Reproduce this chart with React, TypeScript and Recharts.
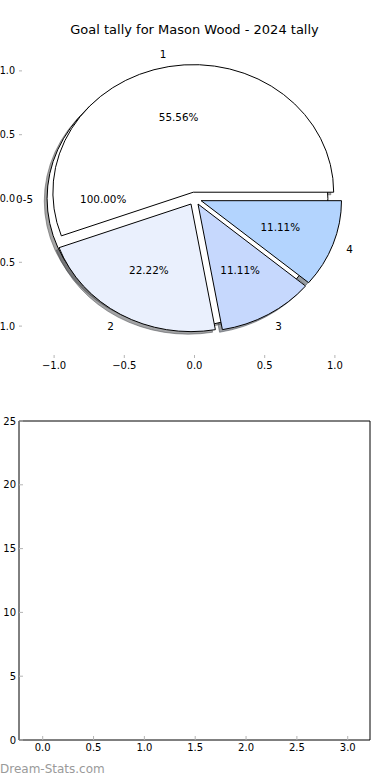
import React from 'react'
import { PieChart, Pie, Sector, ScatterChart, Scatter, XAxis, YAxis } from 'recharts'

const TITLE = 'Goal tally for Mason Wood - 2024 tally'
const WATERMARK = 'Dream-Stats.com'

// outer pie: goal range
const RANGE_NAMES = ['0-5']
const RANGE_GOALS = [9]
const RANGE_COLORS = ['#ffffff']

// inner pie: goals per game
const GOAL_NAMES = ['1', '2', '3', '4']
const GOAL_GAMES = [5, 2, 1, 1]
const GOAL_COLORS = ['#ffffff', '#eaf0fd', '#c6d8fd', '#b3d4fe']

const PIE_TICKS = [-1, -0.5, 0, 0.5, 1]
const BAR_X_TICKS = [0, 0.5, 1, 1.5, 2, 2.5, 3]
const BAR_Y_TICKS = [0, 5, 10, 15, 20, 25]
const BAR_X_DOMAIN = [-0.233, 3.219]
const BAR_Y_DOMAIN = [0, 25]

const rangeData = RANGE_NAMES.map((name, i) => ({ name, value: RANGE_GOALS[i], fill: RANGE_COLORS[i] }))
const goalData = GOAL_NAMES.map((name, i) => ({ name, value: GOAL_GAMES[i], fill: GOAL_COLORS[i] }))

const FONT = '"DejaVu Sans", sans-serif'
const W = 390
const H = 390
// plot box of the pie axes: x 19..370, y 39..358
const PIE_BOX = { top: 39, right: 20, bottom: 32, left: 19 }
// axes get 1px so recharts draws them; margins give the rest
const PIE_MARGIN = { top: PIE_BOX.top - 1, right: PIE_BOX.right - 1, bottom: PIE_BOX.bottom - 1, left: PIE_BOX.left - 1 }
const BAR_MARGIN = { top: 30, right: 19, bottom: 39, left: 18 }
const LIM = 1.25
const RX = (W - PIE_BOX.left - PIE_BOX.right) / (2 * LIM)
const RY = (H - PIE_BOX.top - PIE_BOX.bottom) / (2 * LIM)
const CX = PIE_BOX.left + LIM * RX
const CY = PIE_BOX.top + LIM * RY
const SQUASH = RY / RX
const EXPLODE = 0.05
const SHADOW = 0.02
const RAD = Math.PI / 180
const TICK_GREY = '#b4b4b4'

function fmtPie(v: number) {
  return v.toFixed(1).replace('-', '\u2212')
}

function explodeOffset(mid: number, r: number) {
  return {
    dx: EXPLODE * r * Math.cos(mid * RAD),
    dy: -EXPLODE * r * SQUASH * Math.sin(mid * RAD),
  }
}

// matplotlib shadow: 0.3 x face colour, half transparent
function shade(hex: string) {
  const n = parseInt(hex.slice(1), 16)
  const c = [(n >> 16) & 255, (n >> 8) & 255, n & 255].map(v => Math.round(v * 0.3))
  return `rgb(${c.join(',')})`
}

function makeWedge(kind: 'shadow' | 'face') {
  return (props: any) => {
    const { cx, cy, outerRadius, startAngle, endAngle, midAngle } = props
    const fill = props.payload?.fill ?? props.fill
    const { dx, dy } = explodeOffset(midAngle, outerRadius)
    const sx = kind === 'shadow' ? -SHADOW * outerRadius : 0
    const sy = kind === 'shadow' ? SHADOW * outerRadius * SQUASH : 0
    const color = kind === 'shadow' ? shade(fill) : fill
    const paint = kind === 'shadow'
      ? { fill: color, fillOpacity: 0.5, stroke: color, strokeOpacity: 0.5 }
      : { fill: color, stroke: '#000' }
    const tx = cx + dx + sx
    const ty = cy + dy + sy
    if (endAngle - startAngle >= 359.99) {
      return <ellipse cx={tx} cy={ty} rx={outerRadius} ry={outerRadius * SQUASH} strokeWidth={1} {...paint} />
    }
    return (
      <g transform={`translate(${tx} ${ty}) scale(1 ${SQUASH}) translate(${-cx} ${-cy})`}>
        <Sector
          cx={cx} cy={cy} innerRadius={0} outerRadius={outerRadius}
          startAngle={startAngle} endAngle={endAngle}
          strokeWidth={1} vectorEffect="non-scaling-stroke" {...paint}
        />
      </g>
    )
  }
}

const shadowShape = makeWedge('shadow')
const faceShape = makeWedge('face')
const noShape = () => <g />

function renderLabel(props: any) {
  const { cx, cy, midAngle, outerRadius, percent, name } = props
  const a = midAngle * RAD
  const { dx, dy } = explodeOffset(midAngle, outerRadius)
  const ox = cx + dx
  const oy = cy + dy
  const ry = outerRadius * SQUASH
  const cos = Math.cos(a)
  const sin = Math.sin(a)
  const txt = { fontSize: 10.4, fill: '#000', dominantBaseline: 'central' as const }
  return (
    <g>
      <text x={ox + 1.1 * outerRadius * cos} y={oy - 1.1 * ry * sin} textAnchor={cos > 0 ? 'start' : 'end'} {...txt}>
        {name}
      </text>
      <text x={ox + 0.6 * outerRadius * cos} y={oy - 0.6 * ry * sin} textAnchor="middle" {...txt}>
        {`${(percent * 100).toFixed(2)}%`}
      </text>
    </g>
  )
}

const tickText = { fontSize: 10, fill: '#000' }

function pieProps(data: any[]) {
  return {
    data, dataKey: 'value', nameKey: 'name', cx: CX, cy: CY, outerRadius: RX,
    startAngle: 0, endAngle: 360, isAnimationActive: false, labelLine: false,
  }
}

export default function App() {
  return (
    <div style={{
      position: 'absolute', left: 0, top: 0, width: W, height: 780,
      background: '#fff', fontFamily: FONT, overflow: 'hidden',
    }}>
      <div style={{
        position: 'absolute', left: 0, top: 22, width: W - 1, textAlign: 'center',
        fontSize: 13, lineHeight: '16px', color: '#000',
      }}>
        {TITLE}
      </div>

      {/* pie frame ticks */}
      <div style={{ position: 'absolute', left: 0, top: 0 }}>
        <ScatterChart width={W} height={H} margin={PIE_MARGIN}>
          <XAxis
            xAxisId="b" dataKey="x" type="number" domain={[-LIM, LIM]} ticks={PIE_TICKS} interval={0}
            allowDataOverflow height={1} axisLine={false} tickLine={{ stroke: TICK_GREY }}
            tickSize={-3} tickMargin={7} tick={tickText} tickFormatter={fmtPie}
          />
          <XAxis
            xAxisId="t" orientation="top" dataKey="x" type="number" domain={[-LIM, LIM]} ticks={PIE_TICKS}
            interval={0} allowDataOverflow height={1} axisLine={false} tickLine={{ stroke: TICK_GREY }}
            tickSize={-3} tick={false}
          />
          <YAxis
            yAxisId="l" dataKey="y" type="number" domain={[-LIM, LIM]} ticks={PIE_TICKS} interval={0}
            allowDataOverflow width={1} axisLine={false} tickLine={{ stroke: TICK_GREY }}
            tickSize={-3} tickMargin={7} tick={{ fontSize: 9.6, fill: '#000' }} tickFormatter={fmtPie}
          />
          <YAxis
            yAxisId="r" orientation="right" dataKey="y" type="number" domain={[-LIM, LIM]} ticks={PIE_TICKS}
            interval={0} allowDataOverflow width={1} axisLine={false} tickLine={{ stroke: TICK_GREY }}
            tickSize={-3} tick={false}
          />
          <Scatter xAxisId="b" yAxisId="l" data={[]} isAnimationActive={false} />
        </ScatterChart>
      </div>

      {/* the two overlaid pies */}
      <div style={{ position: 'absolute', left: 0, top: 0 }}>
        <PieChart width={W} height={H} margin={{ top: 0, right: 0, bottom: 0, left: 0 }}>
          <Pie {...pieProps(rangeData)} shape={shadowShape} activeShape={shadowShape} inactiveShape={shadowShape} />
          <Pie {...pieProps(goalData)} shape={shadowShape} activeShape={shadowShape} inactiveShape={shadowShape} />
          <Pie {...pieProps(rangeData)} shape={faceShape} activeShape={faceShape} inactiveShape={faceShape} />
          <Pie {...pieProps(goalData)} shape={faceShape} activeShape={faceShape} inactiveShape={faceShape} label={renderLabel} />
          <Pie {...pieProps(rangeData)} shape={noShape} activeShape={noShape} inactiveShape={noShape} label={renderLabel} />
        </PieChart>
      </div>

      {/* empty lower axes */}
      <div style={{ position: 'absolute', left: 0, top: H }}>
        <ScatterChart width={W} height={H} margin={BAR_MARGIN}>
          <XAxis
            xAxisId="b" dataKey="x" type="number" domain={BAR_X_DOMAIN} ticks={BAR_X_TICKS} interval={0}
            allowDataOverflow height={1} axisLine={{ stroke: '#000' }} tickLine={{ stroke: TICK_GREY }}
            tickSize={-4} tickMargin={8} tick={tickText} tickFormatter={(v: number) => v.toFixed(1)}
          />
          <XAxis
            xAxisId="t" orientation="top" dataKey="x" type="number" domain={BAR_X_DOMAIN} ticks={BAR_X_TICKS}
            interval={0} allowDataOverflow height={1} axisLine={{ stroke: '#000' }} tickLine={{ stroke: TICK_GREY }}
            tickSize={-4} tick={false}
          />
          <YAxis
            yAxisId="l" dataKey="y" type="number" domain={BAR_Y_DOMAIN} ticks={BAR_Y_TICKS} interval={0}
            allowDataOverflow width={1} axisLine={{ stroke: '#000' }} tickLine={{ stroke: TICK_GREY }}
            tickSize={-4} tickMargin={7} tick={tickText}
          />
          <YAxis
            yAxisId="r" orientation="right" dataKey="y" type="number" domain={BAR_Y_DOMAIN} ticks={BAR_Y_TICKS}
            interval={0} allowDataOverflow width={1} axisLine={{ stroke: '#000' }} tickLine={{ stroke: TICK_GREY }}
            tickSize={-4} tick={false}
          />
          <Scatter xAxisId="b" yAxisId="l" data={[]} isAnimationActive={false} />
        </ScatterChart>
      </div>

      <div style={{
        position: 'absolute', left: 0, top: 762, fontSize: 12, lineHeight: '14px', color: '#9a9a9a',
      }}>
        {WATERMARK}
      </div>
    </div>
  )
}
